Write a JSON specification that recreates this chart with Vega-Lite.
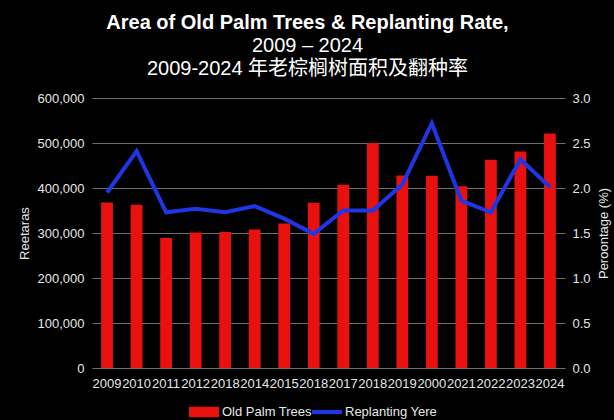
{
  "$schema": "https://vega.github.io/schema/vega-lite/v6.json",
  "width": 473,
  "height": 270,
  "autosize": {"type": "none"},
  "padding": {"left": 92, "top": 98, "right": 49, "bottom": 52},
  "background": "#000000",
  "title": {
    "text": "Area of Old Palm Trees & Replanting Rate,",
    "subtitle": ["2009 – 2024", "2009-2024 年老棕榈树面积及翻种率"],
    "anchor": "middle",
    "frame": "group",
    "dx": -21,
    "font": "Liberation Sans, Noto Sans CJK SC",
    "fontSize": 20,
    "fontWeight": "bold",
    "color": "#ffffff",
    "subtitleFont": "Liberation Sans, Noto Sans CJK SC",
    "subtitleFontSize": 20,
    "subtitleColor": "#ffffff",
    "subtitleLineHeight": 23,
    "subtitlePadding": 3,
    "offset": 13
  },
  "config": {
    "view": {"stroke": null},
    "font": "Liberation Sans, Noto Sans CJK SC",
    "axis": {
      "labelColor": "#e6e6e6",
      "titleColor": "#e6e6e6",
      "labelFont": "Liberation Sans",
      "titleFont": "Liberation Sans",
      "labelFontSize": 13,
      "titleFontSize": 13,
      "titleFontWeight": "normal",
      "gridColor": "#6e6e6e",
      "gridWidth": 1,
      "domain": false,
      "ticks": false
    },
    "legend": {
      "labelColor": "#e6e6e6",
      "labelFont": "Liberation Sans",
      "labelFontSize": 13
    }
  },
  "data": {
    "values": [
      {"year": "2009", "area": 368000, "rate": 1.95},
      {"year": "2010", "area": 363000, "rate": 2.41},
      {"year": "2011", "area": 289000, "rate": 1.73},
      {"year": "2012", "area": 301000, "rate": 1.77},
      {"year": "2013", "area": 302000, "rate": 1.73},
      {"year": "2014", "area": 308000, "rate": 1.80},
      {"year": "2015", "area": 321000, "rate": 1.66},
      {"year": "2016", "area": 367000, "rate": 1.49},
      {"year": "2017", "area": 407000, "rate": 1.75},
      {"year": "2018", "area": 500000, "rate": 1.75},
      {"year": "2019", "area": 428000, "rate": 2.04},
      {"year": "2020", "area": 427000, "rate": 2.72},
      {"year": "2021", "area": 404000, "rate": 1.86},
      {"year": "2022", "area": 463000, "rate": 1.73},
      {"year": "2023", "area": 481000, "rate": 2.32},
      {"year": "2024", "area": 521000, "rate": 2.01}
    ]
  },
  "encoding": {
    "x": {
      "field": "year",
      "type": "ordinal",
      "scale": {"paddingInner": 0.6, "paddingOuter": 0.31},
      "axis": {
        "title": null,
        "labelAngle": 0,
        "labelPadding": 9,
        "grid": false,
        "labelExpr": "datum.value == '2013' ? '2018' : datum.value == '2016' ? '2018' : datum.value == '2020' ? '2000' : datum.value"
      }
    }
  },
  "layer": [
    {
      "mark": {"type": "bar"},
      "encoding": {
        "y": {
          "field": "area",
          "type": "quantitative",
          "scale": {"domain": [0, 600000]},
          "axis": {
            "title": "Reetaras",
            "orient": "left",
            "values": [0, 100000, 200000, 300000, 400000, 500000, 600000],
            "format": ",d",
            "labelPadding": 8,
            "titlePadding": 6,
            "grid": true
          }
        },
        "color": {
          "datum": "Old Palm Trees",
          "type": "nominal",
          "scale": {
            "domain": ["Old Palm Trees", "Replanting Yere"],
            "range": ["#e8110f", "#1e36e4"]
          },
          "legend": {
            "title": null,
            "orient": "none",
            "direction": "horizontal",
            "legendX": 97,
            "legendY": 299,
            "symbolSize": 900,
            "columnPadding": 0,
            "labelOffset": 3,
            "encode": {
              "symbols": {
                "update": {
                  "shape": {"signal": "datum.value === 'Old Palm Trees' ? 'M-1,-0.35H1V0.35H-1Z' : 'M-1,-0.14H1V0.14H-1Z'"},
                  "fill": {"signal": "datum.value === 'Old Palm Trees' ? '#e8110f' : '#1e36e4'"},
                  "stroke": {"value": null},
                  "strokeWidth": {"value": 0},
                  "opacity": {"value": 1},
                  "fillOpacity": {"value": 1}
                }
              }
            }
          }
        }
      }
    },
    {
      "mark": {"type": "line", "strokeWidth": 4, "strokeJoin": "miter"},
      "encoding": {
        "y": {
          "field": "rate",
          "type": "quantitative",
          "scale": {"domain": [0, 3]},
          "axis": {
            "title": "Peroontage (%)",
            "orient": "right",
            "values": [0, 0.5, 1, 1.5, 2, 2.5, 3],
            "format": ".1f",
            "labelPadding": 7,
            "titlePadding": 20,
            "titleAngle": 270,
            "grid": false
          }
        },
        "color": {"datum": "Replanting Yere", "type": "nominal"}
      }
    }
  ],
  "resolve": {"scale": {"y": "independent"}}
}
